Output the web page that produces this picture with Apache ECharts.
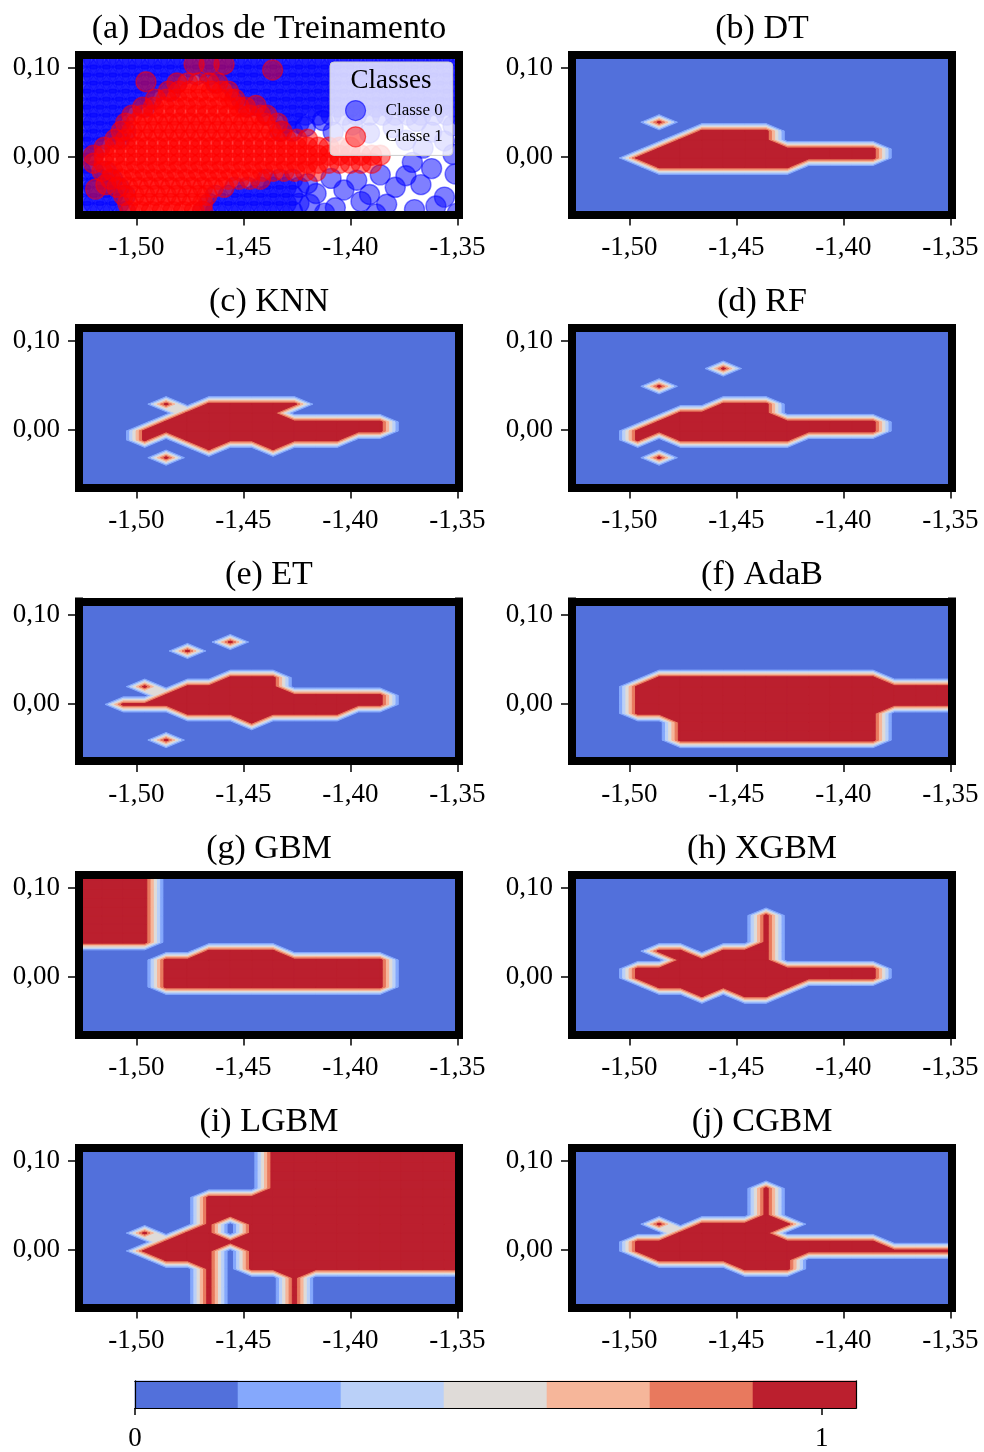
<!DOCTYPE html>
<html>
<head>
<meta charset="utf-8">
<script src="https://cdn.jsdelivr.net/npm/echarts@6/dist/echarts.min.js"></script>
<style>
  html, body { margin: 0; padding: 0; background: #ffffff; }
  #chart { width: 984px; height: 1452px; }
</style>
</head>
<body>
<div id="chart"></div>
<script>
// ---------------------------------------------------------------------------
// Data
// ---------------------------------------------------------------------------
const PANEL_TITLES = ['(a) Dados de Treinamento', '(b) DT', '(c) KNN', '(d) RF', '(e) ET',
                      '(f) AdaB', '(g) GBM', '(h) XGBM', '(i) LGBM', '(j) CGBM'];

const X_RANGE = [-1.5268, -1.3492];
const Y_RANGE = [-0.0645, 0.1145];
const X_TICKS = [-1.50, -1.45, -1.40, -1.35];
const Y_TICKS = [0.00, 0.10];

// Prediction grid: node (i, j) sits at x = GRID_X0 + i*GRID_STEP, y = GRID_Y0 + j*GRID_STEP.
const GRID_X0 = -1.5261;
const GRID_Y0 = -0.061;
const GRID_STEP = 0.01;

// Predicted class per grid node. First string = top row (j = 18), characters run i = 0..18.
const PRED_DT = [
  '0000000000000000000', '0000000000000000000', '0000000000000000000', '0000000000000000000',
  '0000000000000000000', '0000000000000000000', '0000000000000000000', '0000000000000000000',
  '0000100000000000000',
  '0000001111000000000',
  '0000011111000000000',
  '0000111111111110000',
  '0001111111111110000',
  '0000111111100000000',
  '0000000000000000000', '0000000000000000000', '0000000000000000000', '0000000000000000000',
  '0000000000000000000'
];
const PRED_KNN = [
  '0000000000000000000', '0000000000000000000', '0000000000000000000', '0000000000000000000',
  '0000000000000000000', '0000000000000000000', '0000000000000000000', '0000000000000000000',
  '0000000000000000000',
  '0000101111100000000',
  '0000011111000000000',
  '0000111111111110000',
  '0001111111111110000',
  '0001011111111000000',
  '0000001001000000000',
  '0000100000000000000',
  '0000000000000000000', '0000000000000000000', '0000000000000000000'
];
const PRED_RF = [
  '0000000000000000000', '0000000000000000000', '0000000000000000000', '0000000000000000000',
  '0000000000000000000',
  '0000000100000000000',
  '0000000000000000000',
  '0000100000000000000',
  '0000000000000000000',
  '0000000111000000000',
  '0000011111000000000',
  '0000111111111110000',
  '0001111111111110000',
  '0001011111100000000',
  '0000000000000000000',
  '0000100000000000000',
  '0000000000000000000', '0000000000000000000', '0000000000000000000'
];
const PRED_ET = [
  '0000000000000000000', '0000000000000000000', '0000000000000000000', '0000000000000000000',
  '0000000000000000000',
  '0000000100000000000',
  '0000010000000000000',
  '0000000000000000000',
  '0000000000000000000',
  '0000000111000000000',
  '0001011111000000000',
  '0000111111111110000',
  '0011111111111110000',
  '0000011111111000000',
  '0000000010000000000',
  '0000000000000000000',
  '0000100000000000000',
  '0000000000000000000', '0000000000000000000'
];
const PRED_ADAB = [
  '0000000000000000000', '0000000000000000000', '0000000000000000000', '0000000000000000000',
  '0000000000000000000', '0000000000000000000', '0000000000000000000', '0000000000000000000',
  '0000000000000000000',
  '0000111111111110000',
  '0001111111111111111',
  '0001111111111111111',
  '0001111111111111111',
  '0001111111111110000',
  '0000011111111110000',
  '0000011111111110000',
  '0000011111111110000',
  '0000000000000000000', '0000000000000000000'
];
const PRED_GBM = [
  '1111000000000000000', '1111000000000000000', '1111000000000000000', '1111000000000000000',
  '1111000000000000000', '1111000000000000000', '1111000000000000000', '1111000000000000000',
  '1111000000000000000',
  '0000001111000000000',
  '0000111111111110000',
  '0000111111111110000',
  '0000111111111110000',
  '0000111111111110000',
  '0000000000000000000', '0000000000000000000', '0000000000000000000', '0000000000000000000',
  '0000000000000000000'
];
const PRED_XGBM = [
  '0000000000000000000', '0000000000000000000', '0000000000000000000', '0000000000000000000',
  '0000000000000000000',
  '0000000001000000000',
  '0000000001000000000',
  '0000000001000000000',
  '0000000001000000000',
  '0000110111000000000',
  '0000011111000000000',
  '0001111111111110000',
  '0001111111111110000',
  '0000111111100000000',
  '0000001011000000000',
  '0000000000000000000', '0000000000000000000', '0000000000000000000', '0000000000000000000'
];
const PRED_LGBM = [
  '0000000001111111111', '0000000001111111111', '0000000001111111111',
  '0000000001111111111', '0000000001111111111', '0000000001111111111',
  '0000001111111111111', '0000001111111111111', '0000001111111111111',
  '0000001011111111111',
  '0001011011111111111',
  '0000111111111111111',
  '0001111011111111111',
  '0000111011111111111',
  '0000001011111111111',
  '0000001000100000000', '0000001000100000000', '0000001000100000000', '0000001000100000000'
];
const PRED_CGBM = [
  '0000000000000000000', '0000000000000000000', '0000000000000000000', '0000000000000000000',
  '0000000000000000000',
  '0000000001000000000',
  '0000000001000000000',
  '0000000001000000000',
  '0000000001000000000',
  '0000101111100000000',
  '0000011111000000000',
  '0001111111111110000',
  '0001111111111111111',
  '0000111111100000000',
  '0000000011100000000',
  '0000000000000000000', '0000000000000000000', '0000000000000000000', '0000000000000000000'
];

// Filled-contour levels and the colour of each band (coolwarm).
const CONTOUR_LEVELS = [0, 0.15, 0.30, 0.45, 0.60, 0.75, 0.90, 1.05];
const BAND_COLORS = ['#5270DB', '#85A8FC', '#BAD0F8', '#DFDBD8', '#F6B69A', '#E8795E', '#BB1F2E'];
const COLORBAR_TICKS = [0, 1];

// Training samples, class 0: rows of equal y with their x positions, plus scattered points.
const CLASS0_Y = [0.110, 0.101, 0.092, 0.083, 0.074, 0.065, 0.056, 0.047, 0.038, 0.029,
                  0.020, 0.011, 0.002, -0.007, -0.016, -0.025, -0.034, -0.043, -0.052, -0.061];
const CLASS0_X = [
  [-1.526, -1.520, -1.514, -1.508, -1.502, -1.496, -1.490, -1.484, -1.478, -1.472, -1.466, -1.460, -1.454, -1.448, -1.442, -1.436, -1.430, -1.424, -1.418, -1.412, -1.406, -1.400, -1.394, -1.388, -1.382, -1.376, -1.370, -1.364, -1.358, -1.352],
  [-1.523, -1.517, -1.511, -1.505, -1.499, -1.493, -1.487, -1.481, -1.475, -1.469, -1.463, -1.457, -1.451, -1.445, -1.439, -1.433, -1.427, -1.421, -1.415, -1.409, -1.403, -1.397, -1.391, -1.385, -1.379, -1.373, -1.367, -1.361, -1.355, -1.349],
  [-1.526, -1.520, -1.514, -1.508, -1.502, -1.496, -1.490, -1.484, -1.478, -1.472, -1.466, -1.460, -1.454, -1.448, -1.442, -1.436, -1.430, -1.424, -1.418, -1.412, -1.406, -1.400, -1.394, -1.388, -1.382, -1.376, -1.370, -1.364, -1.358, -1.352],
  [-1.523, -1.517, -1.511, -1.505, -1.499, -1.493, -1.487, -1.481, -1.463, -1.457, -1.451, -1.445, -1.439, -1.433, -1.427, -1.421, -1.415, -1.409, -1.403, -1.397, -1.391, -1.385, -1.379, -1.373, -1.367, -1.361, -1.355, -1.349],
  [-1.526, -1.520, -1.514, -1.508, -1.502, -1.496, -1.490, -1.484, -1.454, -1.448, -1.442, -1.436, -1.430, -1.424, -1.418, -1.412, -1.406, -1.400, -1.394, -1.388, -1.382, -1.376, -1.370, -1.364, -1.358, -1.352],
  [-1.523, -1.517, -1.511, -1.505, -1.499, -1.493, -1.451, -1.445, -1.439, -1.433, -1.427, -1.421, -1.415, -1.409, -1.403, -1.397, -1.391, -1.385, -1.379, -1.373, -1.367, -1.361, -1.355, -1.349],
  [-1.526, -1.520, -1.514, -1.508, -1.502, -1.496, -1.448, -1.442, -1.436, -1.430, -1.424, -1.418, -1.412, -1.406, -1.400, -1.394, -1.388, -1.382, -1.376, -1.370, -1.364, -1.358, -1.352],
  [-1.523, -1.517, -1.511, -1.505, -1.439, -1.433, -1.427, -1.421, -1.415, -1.409, -1.403, -1.397, -1.391, -1.385, -1.379, -1.373, -1.367, -1.361, -1.355, -1.349],
  [-1.526, -1.520, -1.514, -1.508, -1.430, -1.424],
  [-1.523, -1.517, -1.511, -1.505, -1.433, -1.427],
  [-1.526, -1.520, -1.514, -1.508],
  [-1.523, -1.517],
  [-1.526, -1.520],
  [-1.523],
  [-1.526, -1.520, -1.514],
  [-1.523, -1.517, -1.511, -1.439, -1.433, -1.427],
  [-1.526, -1.520, -1.514, -1.508, -1.454, -1.448, -1.442, -1.436, -1.430, -1.424],
  [-1.523, -1.517, -1.511, -1.505, -1.463, -1.457, -1.451, -1.445, -1.439, -1.433, -1.427],
  [-1.526, -1.520, -1.514, -1.508, -1.466, -1.460, -1.454, -1.448, -1.442, -1.436, -1.430, -1.424],
  [-1.523, -1.517, -1.511, -1.505, -1.469, -1.463, -1.457, -1.451, -1.445, -1.439, -1.433, -1.427]
];
const CLASS0_SCATTERED = [
  [-1.421, 0.034], [-1.413, 0.041], [-1.408, 0.028], [-1.399, 0.036], [-1.391, 0.027], [-1.380, 0.033],
  [-1.369, 0.040], [-1.362, 0.028], [-1.352, 0.035], [-1.356, 0.018], [-1.366, 0.010], [-1.352, 0.003],
  [-1.374, 0.019], [-1.371, -0.006], [-1.362, -0.013], [-1.351, -0.019], [-1.374, -0.021], [-1.386, -0.020],
  [-1.397, -0.026], [-1.409, -0.024], [-1.420, -0.030], [-1.416, -0.041], [-1.403, -0.037], [-1.391, -0.042],
  [-1.379, -0.034], [-1.367, -0.031], [-1.356, -0.045], [-1.419, -0.053], [-1.407, -0.057], [-1.395, -0.050],
  [-1.383, -0.053], [-1.370, -0.059], [-1.360, -0.055], [-1.350, -0.063], [-1.412, -0.063], [-1.388, -0.064]
];

// Training samples, class 1.
const CLASS1_Y = [0.104, 0.083, 0.074, 0.065, 0.056, 0.047, 0.038, 0.029, 0.020, 0.011,
                  0.002, -0.007, -0.016, -0.025, -0.034, -0.043, -0.052, -0.061];
const CLASS1_X = [
  [-1.473, -1.466, -1.459],
  [-1.481, -1.476, -1.471, -1.466, -1.462],
  [-1.485, -1.480, -1.475, -1.470, -1.465, -1.460, -1.457],
  [-1.491, -1.486, -1.481, -1.476, -1.471, -1.466, -1.461, -1.456, -1.454],
  [-1.497, -1.492, -1.487, -1.482, -1.477, -1.472, -1.467, -1.462, -1.457, -1.452, -1.449],
  [-1.502, -1.497, -1.492, -1.487, -1.482, -1.477, -1.472, -1.467, -1.462, -1.457, -1.452, -1.447, -1.442, -1.439],
  [-1.505, -1.500, -1.495, -1.490, -1.485, -1.480, -1.475, -1.470, -1.465, -1.460, -1.455, -1.450, -1.445, -1.440, -1.434],
  [-1.507, -1.502, -1.497, -1.492, -1.487, -1.482, -1.477, -1.472, -1.467, -1.462, -1.457, -1.452, -1.447, -1.442, -1.437, -1.432],
  [-1.510, -1.505, -1.500, -1.495, -1.490, -1.485, -1.480, -1.475, -1.470, -1.465, -1.460, -1.455, -1.450, -1.445, -1.440, -1.435, -1.430, -1.425, -1.420],
  [-1.515, -1.510, -1.505, -1.500, -1.495, -1.490, -1.485, -1.480, -1.475, -1.470, -1.465, -1.460, -1.455, -1.450, -1.445, -1.440, -1.435, -1.430, -1.425, -1.420, -1.415, -1.410, -1.405, -1.400],
  [-1.520, -1.515, -1.510, -1.505, -1.500, -1.495, -1.490, -1.485, -1.480, -1.475, -1.470, -1.465, -1.460, -1.455, -1.450, -1.445, -1.440, -1.435, -1.430, -1.425, -1.420, -1.415, -1.410, -1.405, -1.400, -1.395, -1.390, -1.386],
  [-1.520, -1.515, -1.510, -1.505, -1.500, -1.495, -1.490, -1.485, -1.480, -1.475, -1.470, -1.465, -1.460, -1.455, -1.450, -1.445, -1.440, -1.435, -1.430, -1.425, -1.420, -1.415, -1.410, -1.405, -1.400, -1.395, -1.390],
  [-1.516, -1.511, -1.506, -1.501, -1.496, -1.491, -1.486, -1.481, -1.476, -1.471, -1.466, -1.461, -1.456, -1.451, -1.446, -1.441, -1.436, -1.431, -1.426, -1.421, -1.416],
  [-1.512, -1.507, -1.502, -1.497, -1.492, -1.487, -1.482, -1.477, -1.472, -1.467, -1.462, -1.457, -1.452, -1.447, -1.442],
  [-1.509, -1.504, -1.499, -1.494, -1.489, -1.484, -1.479, -1.474, -1.469, -1.464, -1.459],
  [-1.506, -1.501, -1.496, -1.491, -1.486, -1.481, -1.476, -1.471, -1.467],
  [-1.504, -1.499, -1.494, -1.489, -1.484, -1.479, -1.474, -1.469],
  [-1.503, -1.498, -1.493, -1.488, -1.483, -1.478, -1.473, -1.469]
];
const CLASS1_SCATTERED = [
  [-1.4955, 0.0845], [-1.4363, 0.0977], [-1.4441, 0.058], [-1.5142, -0.031], [-1.519, -0.036]
];

// ---------------------------------------------------------------------------
// Layout and styling
// ---------------------------------------------------------------------------
const FONT = '"Liberation Serif", "Times New Roman", Times, serif';
const COL_LEFT = [79, 572];
const ROW_TOP = [55, 328, 601.5, 875, 1148];
const PANEL_W = 380;
const PANEL_H = 159.5;
const FRAME_W = 8;
const MARKER_R = 10;
const PANEL_PREDICTIONS = [null, PRED_DT, PRED_KNN, PRED_RF, PRED_ET,
                           PRED_ADAB, PRED_GBM, PRED_XGBM, PRED_LGBM, PRED_CGBM];

function commaFormat(v) {
  return Number(v).toFixed(2).replace('.', ',');
}

// Part of one grid cell whose linearly interpolated value is >= level.
// Corners are ordered bottom-left, bottom-right, top-right, top-left.
function regionAtLevel(c, v, level) {
  const inside = v.map(function (val) { return val >= level; });
  let count = 0;
  inside.forEach(function (b) { if (b) count++; });
  if (count === 0) return [];
  if (count === 4) return [c.slice()];
  const cross = [];
  for (let a = 0; a < 4; a++) {
    const b = (a + 1) % 4;
    if (inside[a] !== inside[b]) {
      const t = (level - v[a]) / (v[b] - v[a]);
      cross[a] = [c[a][0] + (c[b][0] - c[a][0]) * t, c[a][1] + (c[b][1] - c[a][1]) * t];
    }
  }
  const saddle = count === 2 && inside[0] === inside[2];
  const centre = (v[0] + v[1] + v[2] + v[3]) / 4;
  if (saddle && centre < level) {
    const parts = [];
    for (let a = 0; a < 4; a++) {
      if (inside[a]) parts.push([cross[(a + 3) % 4], c[a], cross[a]]);
    }
    return parts;
  }
  const pts = [];
  for (let a = 0; a < 4; a++) {
    if (inside[a]) pts.push(c[a]);
    if (cross[a]) pts.push(cross[a]);
  }
  return [pts];
}

// One band layer of the filled contour; every cell paints its share of that layer.
function bandRenderer(k) {
  return function (params, api) {
    const x0 = api.value(0);
    const y0 = api.value(1);
    const v = [api.value(2), api.value(3), api.value(4), api.value(5)];
    const corners = [[x0, y0], [x0 + GRID_STEP, y0], [x0 + GRID_STEP, y0 + GRID_STEP], [x0, y0 + GRID_STEP]];
    const polys = regionAtLevel(corners, v, CONTOUR_LEVELS[k]);
    return {
      type: 'group',
      children: polys.map(function (poly) {
        return {
          type: 'polygon',
          shape: { points: poly.map(function (p) { return api.coord(p); }) },
          style: { fill: BAND_COLORS[k], stroke: BAND_COLORS[k], lineWidth: 1 }
        };
      })
    };
  };
}

// Cells that touch at least one class-1 node.
function cellData(pred) {
  const rows = pred.length;
  const cols = pred[0].length;
  const node = function (i, j) { return Number(pred[rows - 1 - j][i]); };
  const out = [];
  for (let j = 0; j < rows - 1; j++) {
    for (let i = 0; i < cols - 1; i++) {
      const bl = node(i, j), br = node(i + 1, j), tr = node(i + 1, j + 1), tl = node(i, j + 1);
      if (bl + br + tr + tl > 0) {
        out.push([GRID_X0 + i * GRID_STEP, GRID_Y0 + j * GRID_STEP, bl, br, tr, tl]);
      }
    }
  }
  return out;
}

function rowsToPoints(ys, xs, extra) {
  const pts = [];
  ys.forEach(function (y, r) {
    xs[r].forEach(function (x) { pts.push([x, y]); });
  });
  return pts.concat(extra);
}

// Semi-transparent circular marker, clipped to the plot area by the series.
function markerRenderer(color) {
  return function (params, api) {
    const pt = api.coord([api.value(0), api.value(1)]);
    return {
      type: 'circle',
      shape: { cx: pt[0], cy: pt[1], r: MARKER_R },
      style: { fill: color, stroke: color, lineWidth: 1.4, opacity: 0.5 }
    };
  };
}

const frameLine = { show: true, onZero: false, lineStyle: { color: '#000', width: FRAME_W, cap: 'square' } };

const grids = [];
const xAxes = [];
const yAxes = [];
const series = [];
const graphics = [];

PANEL_TITLES.forEach(function (title, p) {
  const col = p % 2;
  const row = Math.floor(p / 2);
  const left = COL_LEFT[col];
  const top = ROW_TOP[row];
  grids.push({
    left: left, top: top, width: PANEL_W, height: PANEL_H,
    show: true, borderWidth: 0,
    backgroundColor: p === 0 ? '#ffffff' : BAND_COLORS[0]
  });
  xAxes.push({
    gridIndex: p, type: 'value', position: 'bottom', min: X_RANGE[0], max: X_RANGE[1], z: 10,
    axisLine: frameLine,
    axisTick: { show: true, length: 11, customValues: X_TICKS, lineStyle: { color: '#000', width: 1.5 } },
    axisLabel: { show: true, customValues: X_TICKS, formatter: commaFormat, margin: 20,
                 fontFamily: FONT, fontSize: 27, color: '#000' },
    splitLine: { show: false }
  });
  xAxes.push({
    gridIndex: p, type: 'value', position: 'top', min: X_RANGE[0], max: X_RANGE[1], z: 10,
    axisLine: frameLine, axisTick: { show: false }, axisLabel: { show: false }, splitLine: { show: false }
  });
  yAxes.push({
    gridIndex: p, type: 'value', position: 'left', min: Y_RANGE[0], max: Y_RANGE[1], z: 10,
    axisLine: frameLine,
    axisTick: { show: true, length: 11, customValues: Y_TICKS, lineStyle: { color: '#000', width: 1.5 } },
    axisLabel: { show: true, customValues: Y_TICKS, formatter: commaFormat, margin: 19,
                 fontFamily: FONT, fontSize: 27, color: '#000' },
    splitLine: { show: false }
  });
  yAxes.push({
    gridIndex: p, type: 'value', position: 'right', min: Y_RANGE[0], max: Y_RANGE[1], z: 10,
    axisLine: frameLine, axisTick: { show: false }, axisLabel: { show: false }, splitLine: { show: false }
  });

  graphics.push({
    type: 'text', x: left + PANEL_W / 2, y: top - 26, z: 100,
    style: { text: title, font: '34px ' + FONT, fill: '#000',
             align: 'center', verticalAlign: 'middle', textAlign: 'center', textVerticalAlign: 'middle' }
  });

  if (p === 0) {
    series.push({
      name: 'Classe 0', type: 'custom', coordinateSystem: 'cartesian2d', xAxisIndex: 0, yAxisIndex: 0,
      data: rowsToPoints(CLASS0_Y, CLASS0_X, CLASS0_SCATTERED), encode: { x: 0, y: 1 },
      renderItem: markerRenderer('#0000ff'), clip: true, silent: true, z: 2,
      itemStyle: { color: '#0000ff' }
    });
    series.push({
      name: 'Classe 1', type: 'custom', coordinateSystem: 'cartesian2d', xAxisIndex: 0, yAxisIndex: 0,
      data: rowsToPoints(CLASS1_Y, CLASS1_X, CLASS1_SCATTERED), encode: { x: 0, y: 1 },
      renderItem: markerRenderer('#ff0000'), clip: true, silent: true, z: 3,
      itemStyle: { color: '#ff0000' }
    });
  } else {
    const cells = cellData(PANEL_PREDICTIONS[p]);
    for (let k = 1; k < BAND_COLORS.length; k++) {
      series.push({
        type: 'custom', coordinateSystem: 'cartesian2d',
        xAxisIndex: 2 * p, yAxisIndex: 2 * p,
        data: cells, encode: { x: 0, y: 1 },
        renderItem: bandRenderer(k), clip: true, silent: true, z: 1 + k
      });
    }
  }
});

// Colour bar
const cbIndex = PANEL_TITLES.length;
grids.push({ left: 135, top: 1381, width: 721, height: 30, show: false });
const cbFrame = { show: true, onZero: false, lineStyle: { color: '#000', width: 1.2, cap: 'square' } };
xAxes.push({
  gridIndex: cbIndex, type: 'value', position: 'bottom', min: CONTOUR_LEVELS[0],
  max: CONTOUR_LEVELS[CONTOUR_LEVELS.length - 1], z: 10,
  axisLine: cbFrame,
  axisTick: { show: true, length: 7, customValues: COLORBAR_TICKS, lineStyle: { color: '#000', width: 1.5 } },
  axisLabel: { show: true, customValues: COLORBAR_TICKS, formatter: function (v) { return String(v); },
               margin: 17, fontFamily: FONT, fontSize: 27, color: '#000' },
  splitLine: { show: false }
});
xAxes.push({
  gridIndex: cbIndex, type: 'value', position: 'top', min: CONTOUR_LEVELS[0],
  max: CONTOUR_LEVELS[CONTOUR_LEVELS.length - 1], z: 10,
  axisLine: cbFrame, axisTick: { show: false }, axisLabel: { show: false }, splitLine: { show: false }
});
yAxes.push({
  gridIndex: cbIndex, type: 'value', position: 'left', min: 0, max: 1, z: 10,
  axisLine: cbFrame, axisTick: { show: false }, axisLabel: { show: false }, splitLine: { show: false }
});
yAxes.push({
  gridIndex: cbIndex, type: 'value', position: 'right', min: 0, max: 1, z: 10,
  axisLine: cbFrame, axisTick: { show: false }, axisLabel: { show: false }, splitLine: { show: false }
});
series.push({
  type: 'custom', coordinateSystem: 'cartesian2d',
  xAxisIndex: 2 * cbIndex, yAxisIndex: 2 * cbIndex,
  data: BAND_COLORS.map(function (c, k) { return [CONTOUR_LEVELS[k], CONTOUR_LEVELS[k + 1], k]; }),
  encode: { x: [0, 1] },
  silent: true,
  renderItem: function (params, api) {
    const p0 = api.coord([api.value(0), 0]);
    const p1 = api.coord([api.value(1), 1]);
    const color = BAND_COLORS[api.value(2)];
    return {
      type: 'rect',
      shape: { x: p0[0], y: p1[1], width: p1[0] - p0[0], height: p0[1] - p1[1] },
      style: { fill: color, stroke: color, lineWidth: 0.6 }
    };
  }
});

// Legend title for panel (a)
graphics.push({
  type: 'text', x: 391, y: 81, z: 100,
  style: { text: 'Classes', font: '27px ' + FONT, fill: '#000',
           align: 'center', verticalAlign: 'middle', textAlign: 'center', textVerticalAlign: 'middle' }
});

const option = {
  backgroundColor: '#ffffff',
  animation: false,
  grid: grids,
  xAxis: xAxes,
  yAxis: yAxes,
  series: series,
  graphic: { elements: graphics },
  legend: {
    left: 330, top: 62, orient: 'vertical',
    itemWidth: 20, itemHeight: 20, itemGap: 5,
    padding: [38, 10, 8, 15],
    backgroundColor: 'rgba(255,255,255,0.8)',
    borderColor: '#cccccc', borderWidth: 1, borderRadius: 4,
    selectedMode: false,
    formatter: function (name) { return '{gap|}' + name; },
    textStyle: { fontFamily: FONT, fontSize: 17, color: '#000', rich: { gap: { width: 15 } } },
    data: [
      { name: 'Classe 0', icon: 'circle',
        itemStyle: { color: 'rgba(0,0,255,0.5)', borderColor: 'rgba(0,0,255,0.6)', borderWidth: 1.2 } },
      { name: 'Classe 1', icon: 'circle',
        itemStyle: { color: 'rgba(255,0,0,0.5)', borderColor: 'rgba(255,0,0,0.6)', borderWidth: 1.2 } }
    ]
  }
};

const chart = echarts.init(document.getElementById('chart'), null, { renderer: 'canvas', width: 984, height: 1452 });
chart.setOption(option);
</script>
</body>
</html>
